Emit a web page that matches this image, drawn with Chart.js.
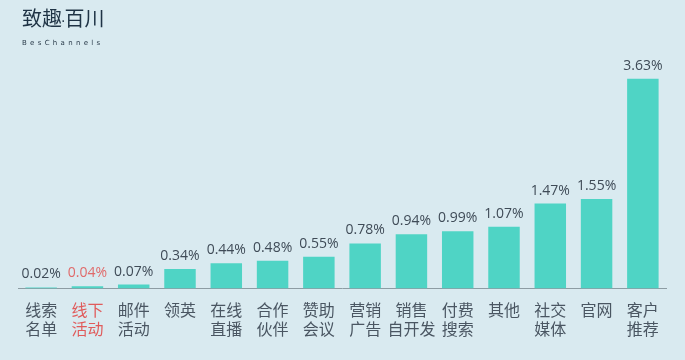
<!DOCTYPE html>
<html>
<head>
<meta charset="utf-8">
<script src="https://cdn.jsdelivr.net/npm/chart.js@4"></script>
<style>
  body { margin: 0; background: #d9eaf0; }
  #wrap { position: relative; width: 685px; height: 360px; }
  #logo { position: absolute; left: 22px; top: 5px; color: #1f3345; font-family: "Noto Sans CJK SC", sans-serif; font-size: 20px; line-height: 26px; }
  #logo .punto { font-family: "DejaVu Sans", sans-serif; font-size: 14px; margin: 0 -1px; }
  #logo small { display: block; font-family: "DejaVu Sans", sans-serif; font-size: 7px; line-height: 8px; letter-spacing: 3.3px; margin-top: 5px; color: #2a3b4a; }
</style>
</head>
<body>
<div id="wrap">
  <canvas id="grafico" width="685" height="360"></canvas>
  <div id="logo">致趣<span class="punto">·</span>百川<small>BesChannels</small></div>
</div>
<script>
// datos
const categorias = [
  ['线索', '名单'], ['线下', '活动'], ['邮件', '活动'], ['领英'], ['在线', '直播'],
  ['合作', '伙伴'], ['赞助', '会议'], ['营销', '广告'], ['销售', '自开发'], ['付费', '搜索'],
  ['其他'], ['社交', '媒体'], ['官网'], ['客户', '推荐']
];
const valores = [0.02, 0.04, 0.07, 0.34, 0.44, 0.48, 0.55, 0.78, 0.94, 0.99, 1.07, 1.47, 1.55, 3.63];
const resaltado = 1; // 线下活动 en rojo

const colorTexto = i => i === resaltado ? '#e05b5b' : '#4a5662';

// etiquetas encima de las barras
const etiquetas = {
  id: 'etiquetas',
  afterDatasetsDraw(chart) {
    const ctx = chart.ctx;
    const meta = chart.getDatasetMeta(0);
    ctx.save();
    ctx.font = '14px "Open Sans", sans-serif';
    ctx.textAlign = 'center';
    ctx.textBaseline = 'bottom';
    meta.data.forEach((bar, i) => {
      ctx.fillStyle = i === resaltado ? '#e06a6a' : '#3f4b57';
      ctx.fillText(valores[i].toFixed(2) + '%', bar.x, bar.y - 6);
    });
    ctx.restore();
  }
};

const ctx = document.getElementById('grafico').getContext('2d');
new Chart(ctx, {
  type: 'bar',
  data: {
    labels: categorias,
    datasets: [{
      data: valores,
      backgroundColor: '#4fd4c5',
      barPercentage: 0.68,
      categoryPercentage: 1
    }]
  },
  options: {
    responsive: false,
    animation: false,
    layout: { padding: { left: 18, right: 19, top: 40, bottom: 17 } },
    plugins: { legend: { display: false }, tooltip: { enabled: false } },
    scales: {
      x: {
        grid: { display: false },
        border: { display: true, color: '#8d9ca3', width: 1 },
        ticks: {
          maxRotation: 0,
          autoSkip: false,
          padding: 4,
          color: c => colorTexto(c.index),
          font: { family: '"Noto Sans CJK SC", sans-serif', size: 16, lineHeight: 1.2 }
        }
      },
      y: { display: false, min: 0, max: 4.3 }
    }
  },
  plugins: [etiquetas]
});
</script>
</body>
</html>
